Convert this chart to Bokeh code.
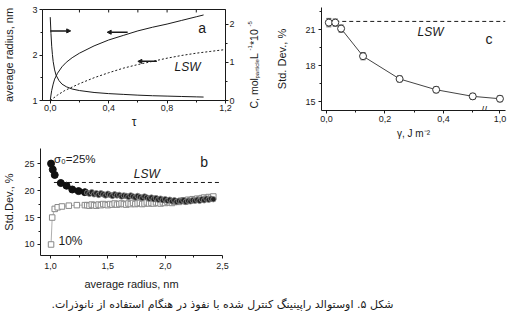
import math
from bokeh.plotting import figure
from bokeh.models import (Range1d, LinearAxis, Label, FixedTicker, CustomJSTickFormatter,
                          ColumnDataSource, Whisker, TeeHead, Arrow, NormalHead, Spacer)
from bokeh.layouts import column, row
from bokeh.embed import file_html
from bokeh.resources import INLINE
from bokeh.core.properties import value

FONT = "Liberation Sans"
INK = "#1a1a1a"

# ---------------- data ----------------
# panel a : average radius (left axis), concentration (right axis), LSW radius
tau_radius = [0.0, 0.005, 0.01, 0.02, 0.03, 0.05, 0.08, 0.11, 0.15, 0.2, 0.3, 0.4, 0.5, 0.6, 0.7, 0.8, 0.9, 1.0, 1.05]
radius = [1.0, 1.12, 1.22, 1.36, 1.47, 1.6, 1.74, 1.84, 1.94, 2.04, 2.2, 2.33, 2.43, 2.53, 2.61, 2.68, 2.76, 2.84, 2.88]
tau_conc = [0.0, 0.005, 0.01, 0.015, 0.02, 0.03, 0.04, 0.06, 0.08, 0.11, 0.15, 0.2, 0.3, 0.4, 0.5, 0.6, 0.7, 0.8, 0.9, 1.0, 1.05]
conc = [2.18, 1.75, 1.42, 1.2, 1.02, 0.8, 0.66, 0.52, 0.43, 0.36, 0.30, 0.26, 0.21, 0.18, 0.16, 0.14, 0.125, 0.115, 0.105, 0.095, 0.09]
tau_lsw = [0.0, 0.05, 0.1, 0.2, 0.3, 0.4, 0.5, 0.6, 0.7, 0.8, 0.9, 1.0, 1.1, 1.2]
radius_lsw = [1.0, 1.12, 1.22, 1.37, 1.5, 1.61, 1.71, 1.79, 1.86, 1.93, 1.99, 2.04, 2.08, 2.12]
a_x_ticks = [0.0, 0.4, 0.8, 1.2]
a_top_ticks = [0.2, 0.4, 0.6, 0.8, 1.0]
a_y_ticks = [1, 2, 3]
a_c_ticks = [0, 1, 2]

# panel b : std. dev. vs average radius
b25_head_x = [1.005, 1.02, 1.037, 1.09, 1.14, 1.19, 1.245, 1.30]
b25_head_y = [25.0, 23.9, 22.9, 21.4, 20.9, 20.2, 19.9, 19.7]
b10_head_x = [1.005, 1.015, 1.037, 1.063, 1.10, 1.16, 1.23, 1.30]
b10_head_y = [10.0, 15.0, 16.6, 16.9, 17.05, 17.2, 17.3, 17.3]
b_band_x = [1.32, 1.34, 1.36, 1.38, 1.40, 1.42, 1.44, 1.46, 1.48, 1.50,
            1.52, 1.54, 1.56, 1.58, 1.60, 1.62, 1.64, 1.66, 1.68, 1.70,
            1.72, 1.74, 1.76, 1.78, 1.80, 1.82, 1.84, 1.86, 1.88, 1.90,
            1.92, 1.94, 1.96, 1.98, 2.00, 2.02, 2.04, 2.06, 2.08, 2.10,
            2.12, 2.14, 2.16, 2.18, 2.20, 2.22, 2.24, 2.26, 2.28, 2.30,
            2.32, 2.34, 2.36, 2.38, 2.40, 2.42]
b25_band_y = [19.6, 19.4, 19.7, 19.3, 19.5, 19.2, 19.5, 19.3, 19.1, 19.4,
              19.2, 19.0, 19.3, 19.1, 19.2, 18.9, 19.1, 19.0, 18.8, 19.1,
              18.9, 18.7, 19.0, 18.8, 18.6, 18.9, 18.7, 18.5, 18.7, 18.4,
              18.6, 18.3, 18.5, 18.2, 18.4, 18.1, 18.3, 18.0, 18.2, 17.9,
              18.1, 18.0, 18.2, 17.9, 18.1, 18.0, 18.2, 18.1, 18.3, 18.1,
              18.4, 18.2, 18.5, 18.3, 18.5, 18.4]
b10_band_y = [17.3, 17.2, 17.4, 17.3, 17.2, 17.4, 17.3, 17.5, 17.4, 17.3,
              17.5, 17.4, 17.6, 17.4, 17.5, 17.6, 17.5, 17.4, 17.6, 17.5,
              17.7, 17.5, 17.6, 17.7, 17.5, 17.6, 17.8, 17.6, 17.7, 17.6,
              17.8, 17.7, 17.6, 17.8, 17.7, 17.9, 17.8, 17.7, 17.9, 18.0,
              17.9, 18.1, 18.2, 18.0, 18.3, 18.2, 18.4, 18.3, 18.5, 18.4,
              18.6, 18.7, 18.5, 18.8, 18.7, 18.9]
lsw_b = 21.5
b_x_ticks = [1.0, 1.5, 2.0, 2.5]
b_y_ticks = [10, 15, 20, 25]

# panel c : std. dev. vs surface energy (broken axis before 1.0)
gamma = [0.008, 0.03, 0.05, 0.125, 0.25, 0.375, 0.5, 1.0]
std_dev = [21.6, 21.6, 21.1, 18.8, 16.9, 16.0, 15.45, 15.25]
std_err = [0.35, 0.3, 0.3, 0.3, 0.25, 0.25, 0.25, 0.25]
lsw_c = 21.7
c_y_ticks = [15, 18, 21]
c_x_ticks = [0.0, 0.2, 0.4, 1.0]

CAPTION = "\u200fشکل ۵. اوستوالد راپینینگ کنترل شده با نفوذ در هنگام استفاده از نانوذرات.\u200f"

# --------------- helpers ---------------
def style_axis(ax, tick_out=3, standoff=2, label_standoff=5, size="9px"):
    ax.axis_line_color = INK
    ax.major_tick_line_color = INK
    ax.minor_tick_line_color = INK
    ax.major_tick_out = tick_out
    ax.major_tick_in = 0
    ax.minor_tick_out = 2
    ax.minor_tick_in = 0
    ax.major_label_text_font = FONT
    ax.major_label_text_font_size = size
    ax.major_label_text_color = INK
    ax.major_label_standoff = standoff
    ax.axis_label_text_font = FONT
    ax.axis_label_text_font_style = "normal"
    ax.axis_label_text_font_size = "11px"
    ax.axis_label_text_color = INK
    ax.axis_label_standoff = label_standoff


def base_fig(fw, fh, xr, yr, l, r, t, b):
    p = figure(frame_width=fw, frame_height=fh, x_range=xr, y_range=yr, output_backend="svg",
               toolbar_location=None, min_border_left=l, min_border_right=r,
               min_border_top=t, min_border_bottom=b)
    p.frame_align = False
    p.xgrid.visible = False
    p.ygrid.visible = False
    p.background_fill_color = "white"
    p.border_fill_color = "white"
    return p


comma1 = CustomJSTickFormatter(code="return tick.toFixed(1).replace('.', ',');")

# ---------------- panel a ----------------
XA0, XA1 = -0.053, 1.2
CMAX = 2.38
pa = base_fig(183, 91, Range1d(XA0, XA1), Range1d(1, 3), 40, 17, 9, 43)
pa.extra_y_ranges = {"conc": Range1d(0, CMAX)}
pa.outline_line_color = INK
pa.outline_line_alpha = 1

style_axis(pa.xaxis[0], standoff=1, label_standoff=1)
pa.xaxis[0].ticker = FixedTicker(ticks=a_x_ticks, minor_ticks=[0.2, 0.6, 1.0])
pa.xaxis[0].formatter = comma1
pa.xaxis[0].axis_label = "τ"
pa.xaxis[0].axis_label_text_font_size = "12px"

style_axis(pa.yaxis[0], standoff=2, label_standoff=14)
pa.yaxis[0].ticker = FixedTicker(ticks=a_y_ticks, minor_ticks=[1.5, 2.5])
pa.yaxis[0].axis_label = "average radius, nm"

ax_r = LinearAxis(y_range_name="conc")
style_axis(ax_r, standoff=1)
ax_r.ticker = FixedTicker(ticks=a_c_ticks, minor_ticks=[0.5, 1.5])
pa.add_layout(ax_r, "right")

# inward ticks on the top edge of the frame
pa.segment(x0=a_top_ticks, y0=[3] * len(a_top_ticks), x1=a_top_ticks,
           y1=[2.935] * len(a_top_ticks), line_color=INK, line_width=1)

pa.line(tau_lsw, radius_lsw, line_color=INK, line_width=1, line_dash="2 2")
pa.line(tau_radius, radius, line_color=INK, line_width=1)
pa.line(tau_conc, conc, line_color=INK, line_width=1, y_range_name="conc")

for xs, xe, yy in [(0.0, 0.14, 2.53), (0.53, 0.39, 2.50), (0.73, 0.6, 1.86)]:
    pa.add_layout(Arrow(x_start=xs, y_start=yy, x_end=xe, y_end=yy, line_color=INK,
                        line_width=1.5, end=NormalHead(size=4, fill_color=INK, line_color=INK)))

pa.add_layout(Label(x=1.04, y=2.6, text="a", text_font=FONT, text_font_size="14px",
                    text_align="center", text_baseline="middle", text_color=INK))
pa.add_layout(Label(x=0.94, y=1.73, text="LSW", text_font=FONT, text_font_size="12px",
                    text_font_style="italic", text_align="center", text_baseline="middle",
                    text_color=INK))

# right-axis title of panel a, built from pieces (sub/superscripts), in pixel coordinates
lab = figure(frame_width=22, frame_height=143, x_range=Range1d(240, 262),
             y_range=Range1d(0, 143), output_backend="svg", toolbar_location=None,
             x_axis_location=None, y_axis_location=None, min_border=0)
lab.frame_align = False
lab.outline_line_color = None
lab.xgrid.visible = False
lab.ygrid.visible = False
for txt, px, py, fs in [("C, mol", 251, 108, "10.5px"), ("particle", 254.5, 78, "6px"),
                        (" L", 251, 58.5, "10.5px"), ("-1", 247, 50, "6px"),
                        (" *10", 251, 44.5, "10.5px"), ("-5", 247, 26, "6px")]:
    lab.text(x=[px], y=[143 - py], text=[txt], text_font=value(FONT),
             text_font_size=value(fs), angle=math.pi / 2, text_align="left",
             text_baseline="middle", text_color=INK)

# ---------------- panel c ----------------
BREAK_POS = 0.593
gamma_disp = [g if g <= 0.55 else BREAK_POS for g in gamma]
pc = base_fig(184, 103, Range1d(-0.017, 0.612), Range1d(14.27, 22.86), 57, 6, 7, 33)
pc.outline_line_color = None
style_axis(pc.xaxis[0], standoff=2, label_standoff=3)
pc.xaxis[0].ticker = FixedTicker(ticks=[t if t <= 0.55 else BREAK_POS for t in c_x_ticks],
                                 minor_ticks=[0.1, 0.3, 0.5])
pc.xaxis[0].formatter = CustomJSTickFormatter(
    code="if (tick > 0.5) { return '1,0'; } return tick.toFixed(1).replace('.', ',');")
pc.xaxis[0].axis_label = "γ, J m⁻²"
pc.xaxis[0].axis_label_text_font_size = "10px"
style_axis(pc.yaxis[0], standoff=3, label_standoff=14)
pc.yaxis[0].ticker = FixedTicker(ticks=c_y_ticks, minor_ticks=[16.5, 19.5, 22.5])
pc.yaxis[0].axis_label = "Std. Dev., %"

pc.line([0.03, 0.612], [lsw_c, lsw_c], line_color=INK, line_width=1, line_dash="4 3")
src_c = ColumnDataSource(dict(x=gamma_disp, y=std_dev,
                              up=[s + e for s, e in zip(std_dev, std_err)],
                              lo=[s - e for s, e in zip(std_dev, std_err)]))
pc.line("x", "y", source=src_c, line_color="#444", line_width=1)
pc.add_layout(Whisker(base="x", upper="up", lower="lo", source=src_c, line_color="#555",
                      upper_head=TeeHead(size=5, line_color="#555"),
                      lower_head=TeeHead(size=5, line_color="#555")))
pc.scatter("x", "y", source=src_c, marker="circle", size=7, fill_color="white",
           line_color="#333", line_width=1)
pc.add_layout(Label(x=0.539, y=14.27, text="//", text_font=FONT, text_font_size="10px",
                    text_align="center", text_baseline="middle", text_color=INK))
pc.add_layout(Label(x=0.356, y=20.8, text="LSW", text_font=FONT, text_font_size="12px",
                    text_font_style="italic", text_align="center", text_baseline="middle",
                    text_color=INK))
pc.add_layout(Label(x=0.556, y=20.27, text="c", text_font=FONT, text_font_size="14px",
                    text_align="center", text_baseline="middle", text_color=INK))

# ---------------- panel b ----------------
pb = base_fig(182, 107, Range1d(0.913, 2.5), Range1d(7.96, 27.8), 40, 40, 5, 35)
pb.outline_line_color = None
style_axis(pb.xaxis[0], standoff=4, label_standoff=6)
pb.xaxis[0].ticker = FixedTicker(ticks=b_x_ticks, minor_ticks=[1.25, 1.75, 2.25])
pb.xaxis[0].formatter = comma1
pb.xaxis[0].axis_label = "average radius, nm"
style_axis(pb.yaxis[0], standoff=3, label_standoff=6)
pb.yaxis[0].ticker = FixedTicker(ticks=b_y_ticks, minor_ticks=[12.5, 17.5, 22.5])
pb.yaxis[0].axis_label = "Std.Dev., %"

b10_x = b10_head_x + b_band_x
b10_y = b10_head_y + b10_band_y

pb.line([1.03, 2.47], [lsw_b, lsw_b], line_color=INK, line_width=1, line_dash="4 3")
pb.line(b10_x, b10_y, line_color="#999", line_width=0.8)
pb.scatter(b10_x, b10_y, marker="square", size=5.5, fill_color="white",
           line_color="#888", line_width=1)
pb.scatter(b25_head_x, b25_head_y, marker="circle", size=7, fill_color="#111",
           line_color="#111")
pb.scatter(b_band_x, b25_band_y, marker="circle", size=5.5, fill_color="#222",
           line_color="#888", line_width=0.8)

pb.add_layout(Label(x=1.03, y=25.9, text="σ₀=25%", text_font=FONT, text_font_size="11.5px",
                    text_align="left", text_baseline="middle", text_color=INK))
pb.add_layout(Label(x=1.07, y=10.7, text="10%", text_font=FONT, text_font_size="12px",
                    text_align="left", text_baseline="middle", text_color=INK))
pb.add_layout(Label(x=1.84, y=23.1, text="LSW", text_font=FONT, text_font_size="12px",
                    text_font_style="italic", text_align="center", text_baseline="middle",
                    text_color=INK))
pb.add_layout(Label(x=2.34, y=25.3, text="b", text_font=FONT, text_font_size="14px",
                    text_align="center", text_baseline="middle", text_color=INK))

# ---------------- caption ----------------
cap = figure(frame_width=509, frame_height=37, x_range=Range1d(0, 509),
             y_range=Range1d(0, 37), output_backend="svg", toolbar_location=None,
             x_axis_location=None, y_axis_location=None, min_border=0)
cap.frame_align = False
cap.outline_line_color = None
cap.xgrid.visible = False
cap.ygrid.visible = False
cap.text(x=[222], y=[25.3], text=[CAPTION], text_font=value("DejaVu Sans"),
         text_font_size=value("11px"), text_align="center", text_baseline="middle",
         text_color=INK)

page = column(row(pa, lab, pc), row(pb, Spacer(width=247, height=147)), cap)
open("out.html", "w").write(file_html(page, INLINE))
